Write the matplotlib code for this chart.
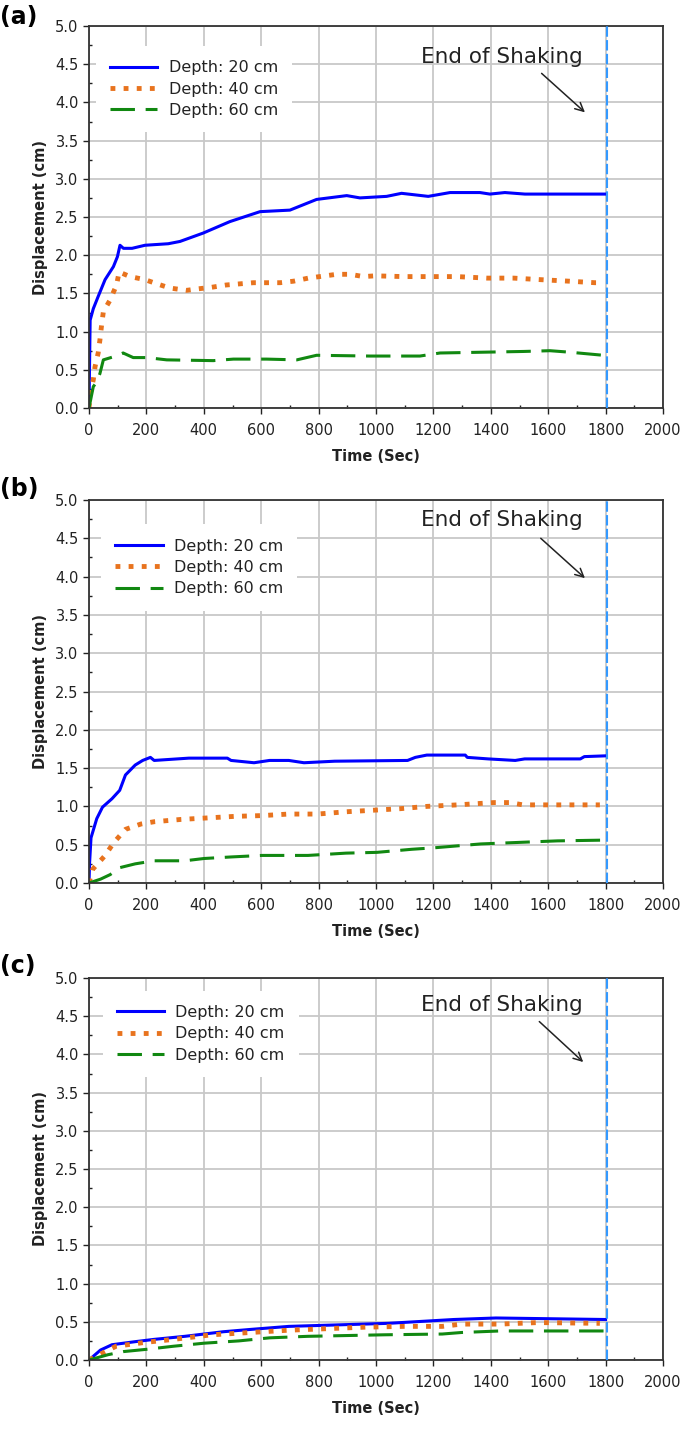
import matplotlib
matplotlib.use("Agg")
import matplotlib.pyplot as plt
from matplotlib.ticker import MultipleLocator, FormatStrFormatter

# ---------------- data ----------------
panel_labels = ["(a)", "(b)", "(c)"]
series_labels = ["Depth: 20 cm", "Depth: 40 cm", "Depth: 60 cm"]

# Panel (a)
t_a20 = [0, 4, 15, 32, 56, 85, 99, 108, 120, 150, 195, 276, 317, 398, 491, 596, 700, 793, 898, 944,
         1037, 1089, 1182, 1258, 1362, 1397, 1449, 1519, 1800]
d_a20 = [0, 1.15, 1.30, 1.46, 1.68, 1.85, 1.98, 2.13, 2.09, 2.09, 2.13, 2.15, 2.18, 2.29, 2.44, 2.57, 2.59,
         2.73, 2.78, 2.75, 2.77, 2.81, 2.77, 2.82, 2.82, 2.80, 2.82, 2.80, 2.80]
t_a40 = [0, 5, 15, 21, 32, 38, 44, 50, 73, 96, 105, 143, 195, 241, 282, 340, 381, 427, 478, 573, 666, 713,
         764, 863, 910, 956, 997, 1096, 1190, 1283, 1387, 1480, 1573, 1672, 1763, 1790]
d_a40 = [0, 0.20, 0.37, 0.54, 0.72, 0.89, 1.09, 1.26, 1.41, 1.61, 1.78, 1.72, 1.68, 1.62, 1.57, 1.54, 1.56,
         1.58, 1.61, 1.64, 1.64, 1.66, 1.70, 1.75, 1.75, 1.72, 1.73, 1.72, 1.72, 1.72, 1.70, 1.70, 1.68,
         1.66, 1.64, 1.64]
t_a60 = [0, 15, 25, 38, 50, 85, 119, 154, 201, 271, 433, 503, 619, 724, 793, 979, 1153, 1223, 1513, 1606,
         1676, 1792, 1800]
d_a60 = [0, 0.28, 0.33, 0.45, 0.63, 0.67, 0.72, 0.66, 0.66, 0.63, 0.62, 0.64, 0.64, 0.63, 0.69, 0.68, 0.68,
         0.72, 0.74, 0.75, 0.73, 0.69, 0.69]

# Panel (b)
t_b20 = [0, 2, 7, 27, 47, 80, 107, 127, 161, 187, 214, 227, 348, 482, 495, 575, 629, 696, 749, 856, 1110,
         1137, 1177, 1311, 1318, 1391, 1485, 1518, 1712, 1726, 1800]
d_b20 = [0, 0.26, 0.59, 0.84, 0.99, 1.10, 1.21, 1.41, 1.54, 1.60, 1.64, 1.60, 1.63, 1.63, 1.60, 1.57, 1.60,
         1.60, 1.57, 1.59, 1.60, 1.64, 1.67, 1.67, 1.64, 1.62, 1.60, 1.62, 1.62, 1.65, 1.66]
t_b40 = [0, 13, 54, 87, 127, 181, 227, 321, 415, 508, 602, 696, 796, 896, 990, 1084, 1177, 1284, 1411,
         1465, 1512, 1605, 1780]
d_b40 = [0, 0.18, 0.35, 0.53, 0.70, 0.77, 0.80, 0.83, 0.85, 0.87, 0.88, 0.90, 0.90, 0.93, 0.95, 0.97, 1.00,
         1.02, 1.05, 1.05, 1.02, 1.02, 1.02]
t_b60 = [0, 40, 74, 107, 161, 227, 334, 401, 495, 602, 763, 896, 1003, 1124, 1204, 1365, 1498, 1632, 1800]
d_b60 = [0, 0.05, 0.11, 0.20, 0.25, 0.29, 0.29, 0.32, 0.34, 0.36, 0.36, 0.39, 0.40, 0.44, 0.46, 0.51, 0.53,
         0.55, 0.56]

# Panel (c)
t_c20 = [0, 40, 80, 161, 227, 334, 401, 468, 562, 696, 870, 1043, 1271, 1418, 1800]
d_c20 = [0, 0.13, 0.20, 0.24, 0.27, 0.31, 0.34, 0.37, 0.40, 0.44, 0.46, 0.48, 0.53, 0.55, 0.53]
t_c40 = [0, 47, 94, 194, 294, 428, 562, 696, 829, 963, 1097, 1231, 1298, 1431, 1565, 1780]
d_c40 = [0, 0.09, 0.18, 0.23, 0.27, 0.33, 0.36, 0.39, 0.41, 0.43, 0.44, 0.44, 0.47, 0.47, 0.49, 0.48]
t_c60 = [0, 67, 120, 201, 294, 401, 522, 629, 763, 1030, 1231, 1298, 1431, 1800]
d_c60 = [0, 0.07, 0.11, 0.14, 0.18, 0.22, 0.25, 0.29, 0.31, 0.33, 0.34, 0.36, 0.38, 0.38]

end_of_shaking = 1805

panels = [
    [(t_a20, d_a20), (t_a40, d_a40), (t_a60, d_a60)],
    [(t_b20, d_b20), (t_b40, d_b40), (t_b60, d_b60)],
    [(t_c20, d_c20), (t_c40, d_c40), (t_c60, d_c60)],
]

# ---------------- styling / layout ----------------
plt.rcParams['font.family'] = ['DejaVu Sans']
fig = plt.figure(figsize=(6.85, 14.29), dpi=100)

W, H = 685, 1429
ax_left, ax_right = 89, 663
ax_tb = [(26, 408), (500, 883), (978, 1360)]
label_y = [17, 489, 966]
text_y = [4.59, 4.74, 4.65]
arrow_tail = [(1577, 4.38), (1574, 4.50), (1569, 4.43)]
arrow_head = [(1728, 3.87), (1728, 3.98), (1722, 3.90)]
legend_anchor = [(0.012, 0.948), (0.021, 0.937), (0.024, 0.967)]

styles = [
    dict(color='#0000FF', lw=2.2, linestyle='-'),
    dict(color='#E8731E', lw=3.5, linestyle=(0, (1.0, 1.7)), dash_capstyle='butt'),
    dict(color='#118811', lw=2.2, linestyle=(0, (8, 3.5))),
]

for i, (top, bot) in enumerate(ax_tb):
    ax = fig.add_axes([ax_left / W, 1 - bot / H, (ax_right - ax_left) / W, (bot - top) / H])
    for (t, d), st, lab in zip(panels[i], styles, series_labels):
        ax.plot(t, d, label=lab, **st)
    ax.axvline(end_of_shaking, color='#3399FF', lw=1.5, linestyle=(0, (5, 1.6)), zorder=3)

    ax.set_xlim(0, 2000)
    ax.set_ylim(0, 5)
    ax.xaxis.set_major_locator(MultipleLocator(200))
    ax.xaxis.set_minor_locator(MultipleLocator(100))
    ax.yaxis.set_major_locator(MultipleLocator(0.5))
    ax.yaxis.set_minor_locator(MultipleLocator(0.25))
    ax.yaxis.set_major_formatter(FormatStrFormatter('%.1f'))
    ax.grid(True, which='major', color='#C8C8C8', lw=1.3, zorder=0)
    ax.set_axisbelow(True)
    ax.tick_params(which='major', direction='out', length=4, width=1, colors='#222222',
                   labelsize=10.5)
    ax.tick_params(which='minor', direction='in', length=2.5, width=1, color='#222222')
    ax.tick_params(axis='x', which='major', pad=7)
    ax.tick_params(axis='y', which='major', pad=3.5)
    for sp in ax.spines.values():
        sp.set_color('#333333')
        sp.set_linewidth(1.3)

    ax.set_xlabel('Time (Sec)', fontsize=10.5, fontweight='bold', color='#222222', labelpad=8)
    ax.set_ylabel('Displacement (cm)', fontsize=10.5, fontweight='bold', color='#222222', labelpad=5)

    leg = ax.legend(loc='upper left', bbox_to_anchor=legend_anchor[i], borderaxespad=0,
                    fontsize=11.5, handlelength=2.95, handletextpad=0.7, labelspacing=0.4,
                    borderpad=0.9, frameon=True, fancybox=False, framealpha=1)
    leg.get_frame().set_edgecolor('none')
    leg.get_frame().set_facecolor('white')
    for txt in leg.get_texts():
        txt.set_color('#222222')

    ax.text(1157, text_y[i], 'End of Shaking', fontsize=15.5, color='#222222',
            ha='left', va='center', zorder=5)
    ax.annotate('', xy=arrow_head[i], xytext=arrow_tail[i],
                arrowprops=dict(arrowstyle='->', lw=1.1, color='#222222', mutation_scale=15,
                                shrinkA=0, shrinkB=0), zorder=5)

    fig.text(0.0, 1 - label_y[i] / H, panel_labels[i], fontsize=17, fontweight='bold',
             ha='left', va='center')

fig.savefig('out.png', dpi=100)
